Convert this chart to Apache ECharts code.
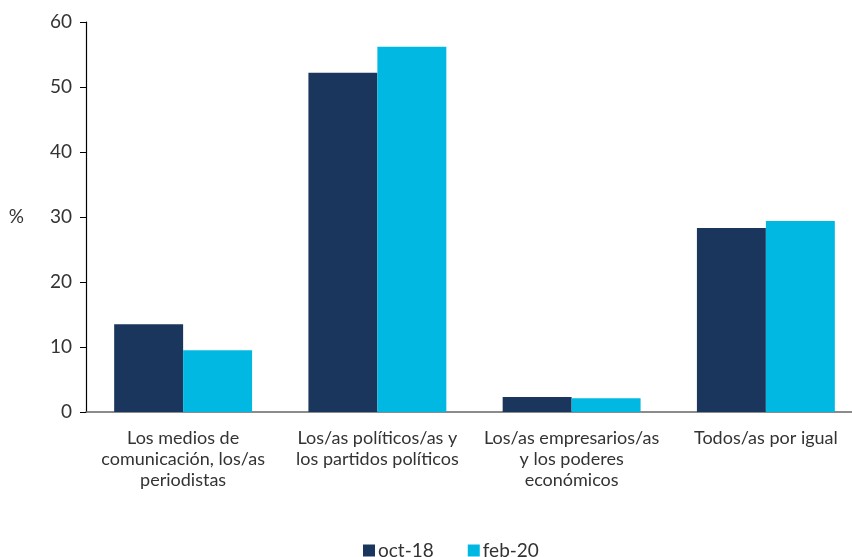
<!DOCTYPE html>
<html><head><meta charset="utf-8">
<script src="https://cdn.jsdelivr.net/npm/echarts@6/dist/echarts.min.js"></script>
<style>html,body{margin:0;padding:0;background:#fff}#c{width:852px;height:557px}</style>
</head><body><div id="c"></div>
<script>
const categories = ["Los medios de\ncomunicación, los/as\nperiodistas","Los/as políticos/as y\nlos partidos políticos","Los/as empresarios/as\ny los poderes\neconómicos","Todos/as por igual"];
const seriesNames = ["oct-18","feb-20"];
const oct18 = [13.5, 52.2, 2.3, 28.3];
const feb20 = [9.5, 56.2, 2.1, 29.4];
const colors = ["#1a365d","#00b8e2"];
const chart = echarts.init(document.getElementById('c'));
const font = "Lato, 'Noto Sans', sans-serif";
chart.setOption({
  animation:false,
  textStyle:{fontFamily:font},
  grid:{left:86,top:22,width:777,height:390,containLabel:false,outerBoundsMode:'none'},
  legend:{top:536,left:358,itemWidth:12,itemHeight:12,itemGap:34,icon:'rect',
    textStyle:{fontSize:19,color:'#333',fontFamily:font,padding:[0,0,0,-2]},data:seriesNames},
  xAxis:{type:'category',data:categories,
    axisLine:{lineStyle:{color:'#666',width:1.5}},axisTick:{show:false},
    axisLabel:{fontSize:18,color:'#333',lineHeight:21,margin:16,interval:0}},
  yAxis:{type:'value',min:0,max:60,interval:10,name:'%',nameLocation:'middle',nameGap:62,nameRotate:0,
    nameTextStyle:{fontSize:19,color:'#333'},
    axisLine:{show:true,lineStyle:{color:'#000',width:1.2}},
    axisTick:{show:true,length:6,lineStyle:{color:'#000'}},
    splitLine:{show:false},
    axisLabel:{fontSize:19,color:'#333',margin:14}},
  series:[
    {name:seriesNames[0],type:'bar',data:oct18,itemStyle:{color:colors[0]},barGap:'0%',barCategoryGap:'29%'},
    {name:seriesNames[1],type:'bar',data:feb20,itemStyle:{color:colors[1]},barGap:'0%',barCategoryGap:'29%'}
  ]
});
</script></body></html>
